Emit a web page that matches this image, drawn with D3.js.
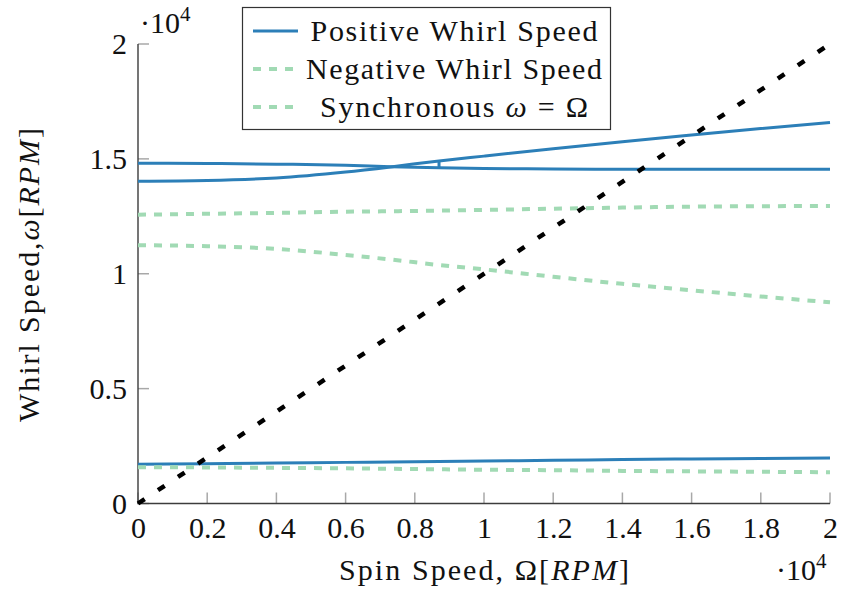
<!DOCTYPE html>
<html>
<head>
<meta charset="utf-8">
<script src="https://cdn.jsdelivr.net/npm/d3@7"></script>
<style>
  html, body { margin: 0; padding: 0; background: #fff; }
  svg { display: block; }
</style>
</head>
<body>
<svg id="chart" width="842" height="592"></svg>
<script>
// Spin speed samples (RPM), shared by all whirl curves
const spin = [0, 2000, 4000, 6000, 7300, 8700, 10000, 12000, 14000, 16000, 18000, 20000];

// Forward (positive) whirl modes, RPM
const posLow   = [1710, 1730, 1760, 1790, 1810, 1830, 1850, 1880, 1910, 1940, 1960, 1980];
const posRise  = [14030, 14060, 14170, 14430, 14650, 14910, 15120, 15440, 15750, 16040, 16320, 16580];
const posFlat  = [14810, 14800, 14770, 14720, 14660, 14610, 14580, 14560, 14550, 14550, 14550, 14550];

// Backward (negative) whirl modes, RPM
const negLow   = [1580, 1570, 1550, 1530, 1510, 1490, 1470, 1450, 1420, 1400, 1380, 1360];
const negMid   = [11240, 11200, 11080, 10820, 10620, 10380, 10190, 9870, 9560, 9280, 9010, 8760];
const negHigh  = [12570, 12610, 12650, 12700, 12720, 12750, 12780, 12830, 12880, 12920, 12940, 12950];

// Mode swap point where the two upper forward branches exchange order
const swapSpin = 8700;
const swapVals = [14610, 14910];

// Synchronous line endpoints (omega = Omega)
const syncSpin = [0, 20000];

const xTicks = [0, 2000, 4000, 6000, 8000, 10000, 12000, 14000, 16000, 18000, 20000];
const yTicks = [0, 5000, 10000, 15000, 20000];

const legendLabels = ["Positive Whirl Speed", "Negative Whirl Speed", "Synchronous \u03c9 = \u03a9"];

const BLUE = "#2c7fb8", GREEN = "#a1dab4";
const FONT = '"Liberation Serif"';

const svg = d3.select("#chart");
const x = d3.scaleLinear().domain([0, 20000]).range([138, 830]);
const y = d3.scaleLinear().domain([0, 20000]).range([503.5, 44]);

const serif = sel => sel.style("font-family", FONT).style("font-size", "30px").attr("fill", "#111");

// Tick labels from d3 axes; tick marks drawn inside in grey
const fmt = v => d3.format("~g")(v / 10000);
const gx = svg.append("g").attr("transform", `translate(0,${y(0)})`)
  .call(d3.axisBottom(x).tickValues(xTicks).tickSize(0).tickFormat(fmt).tickPadding(0));
gx.select(".domain").remove();
gx.selectAll("text").attr("dy", null).attr("y", 34).call(serif);

const gy = svg.append("g").attr("transform", `translate(${x(0)},0)`)
  .call(d3.axisLeft(y).tickValues(yTicks).tickSize(0).tickFormat(fmt).tickPadding(11));
gy.select(".domain").remove();
gy.selectAll("text").call(serif);

svg.append("g").selectAll("line").data(xTicks).join("line")
  .attr("x1", d => x(d)).attr("x2", d => x(d))
  .attr("y1", y(0)).attr("y2", y(0) - 11)
  .attr("stroke", "#a8a8a8").attr("stroke-width", 1.5);
svg.append("g").selectAll("line").data(yTicks).join("line")
  .attr("x1", x(0)).attr("x2", x(0) + 11)
  .attr("y1", d => y(d)).attr("y2", d => y(d))
  .attr("stroke", "#a8a8a8").attr("stroke-width", 1.5);

svg.append("path")
  .attr("d", `M${x(0)},${y(20000)}V${y(0)}H${x(20000)}`)
  .attr("fill", "none").attr("stroke", "#3c3c3c").attr("stroke-width", 1.4);

// Whirl curves
const line = d3.line().x(d => x(d[0])).y(d => y(d[1])).curve(d3.curveMonotoneX);
const pts = vals => spin.map((s, i) => [s, vals[i]]);

const plot = svg.append("g");
[posLow, posRise, posFlat].forEach(v =>
  plot.append("path").attr("d", line(pts(v)))
    .attr("fill", "none").attr("stroke", BLUE).attr("stroke-width", 3));
plot.append("path")
  .attr("d", d3.line()([[x(swapSpin), y(swapVals[0])], [x(swapSpin), y(swapVals[1])]]))
  .attr("stroke", BLUE).attr("stroke-width", 3);

[negLow, negMid, negHigh].forEach(v =>
  plot.append("path").attr("d", line(pts(v)))
    .attr("fill", "none").attr("stroke", GREEN).attr("stroke-width", 4)
    .attr("stroke-dasharray", "8 8"));

plot.append("path")
  .attr("d", d3.line().x(d => x(d)).y(d => y(d))(syncSpin))
  .attr("fill", "none").attr("stroke", "#000").attr("stroke-width", 4.5)
  .attr("stroke-dasharray", "8 16");

// Axis titles and scale multipliers
const txt = () => svg.append("text").call(serif);
txt().attr("x", 484).attr("y", 580).attr("text-anchor", "middle")
  .attr("textLength", 290).attr("lengthAdjust", "spacing")
  .html("Spin Speed, \u03a9[<tspan font-style='italic'>RPM</tspan>]");
txt().attr("transform", "translate(39,275) rotate(-90)").attr("text-anchor", "middle")
  .attr("textLength", 294).attr("lengthAdjust", "spacing")
  .html("Whirl Speed,<tspan font-style='italic'>\u03c9</tspan>[<tspan font-style='italic'>RPM</tspan>]");

function mult(xp, yp) {
  const t = txt().attr("x", xp).attr("y", yp);
  t.append("tspan").text("\u00b710");
  t.append("tspan").attr("dy", -12).style("font-size", "21px").text("4");
}
mult(140, 33);
mult(776, 580);

// Legend
const lg = svg.append("g");
lg.append("rect").attr("x", 242.5).attr("y", 7.5).attr("width", 368).attr("height", 122)
  .attr("fill", "#fff").attr("stroke", "#333").attr("stroke-width", 1.2);
const rowY = [31, 69, 107];
const rowStyle = [
  {c: BLUE, w: 3, dash: null},
  {c: GREEN, w: 4, dash: "8 8"},
  {c: GREEN, w: 4, dash: "8 8"}
];
const textW = [287, 296, 268];
legendLabels.forEach((lab, i) => {
  lg.append("line").attr("x1", 253).attr("x2", 298).attr("y1", rowY[i]).attr("y2", rowY[i])
    .attr("stroke", rowStyle[i].c).attr("stroke-width", rowStyle[i].w)
    .attr("stroke-dasharray", rowStyle[i].dash);
  const t = lg.append("text").call(serif)
    .attr("x", 454).attr("y", rowY[i] + 9.5)
    .attr("text-anchor", "middle")
    .attr("textLength", textW[i]).attr("lengthAdjust", "spacing");
  if (i < 2) t.text(lab);
  else t.html("Synchronous <tspan font-style='italic'>\u03c9</tspan> = \u03a9");
});
</script>
</body>
</html>
